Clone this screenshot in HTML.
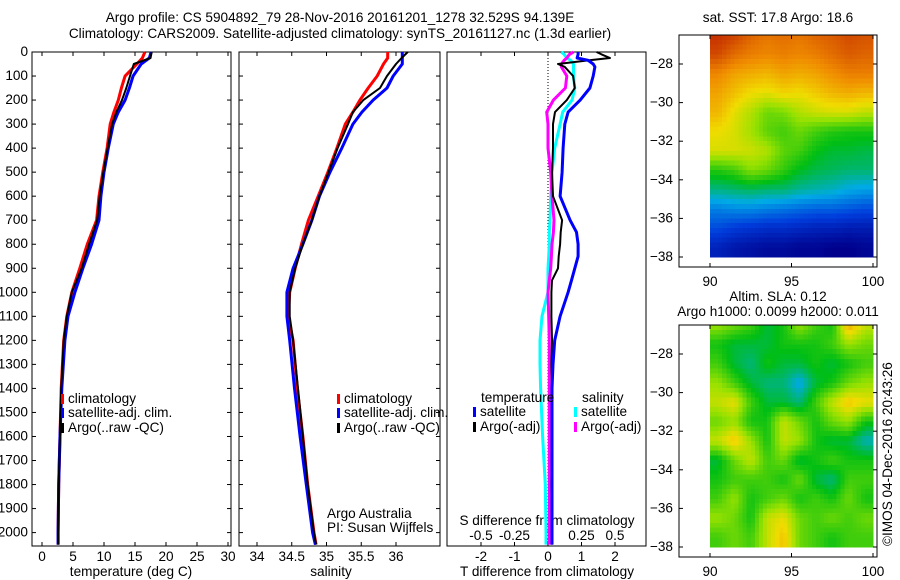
<!DOCTYPE html>
<html><head><meta charset="utf-8"><style>
body{margin:0;background:#fff;}
svg{display:block;font-family:"Liberation Sans",sans-serif;}
text{font-size:13.6px;fill:#000;}
</style></head><body>
<svg id="c" width="900" height="580" viewBox="0 0 900 580">
<text x="340" y="22" text-anchor="middle">Argo profile: CS 5904892_79 28-Nov-2016 20161201_1278 32.529S 94.139E</text>
<text x="340" y="38" text-anchor="middle">Climatology: CARS2009. Satellite-adjusted climatology: synTS_20161127.nc (1.3d earlier)</text>
<text x="778" y="22" text-anchor="middle">sat. SST: 17.8 Argo: 18.6</text>
<text x="778" y="301" text-anchor="middle">Altim. SLA: 0.12</text>
<text x="778" y="316" text-anchor="middle">Argo h1000: 0.0099 h2000: 0.011</text>
<text transform="translate(892,546) rotate(-90)">©IMOS 04-Dec-2016 20:43:26</text>
<g id="g"></g>
</svg>
<script>
// ---------- data ----------
const depthT = [0,25,50,100,150,200,250,300,400,500,600,700,800,900,1000,1100,1200,1400,1600,1800,2000,2050];
const tempClim = [16.6,16.2,15.3,13.4,12.8,12.3,11.6,11.0,10.5,9.8,9.2,8.8,7.3,6.1,4.8,4.0,3.5,3.1,2.9,2.7,2.6,2.6];
const tempSat  = [17.6,17.3,16.0,14.7,14.1,13.4,12.3,11.5,10.7,10.0,9.5,9.2,8.0,6.6,5.3,4.2,3.7,3.2,2.9,2.7,2.6,2.6];
const tempArgo = [17.7,17.5,14.8,14.2,13.6,12.9,12.0,11.3,10.6,9.9,9.3,8.9,7.6,6.4,4.8,4.0,3.5,3.1,2.9,2.7,2.6,2.6];
const salClim = [35.88,35.88,35.82,35.73,35.60,35.48,35.38,35.27,35.15,35.02,34.88,34.74,34.64,34.55,34.47,34.45,34.52,34.58,34.66,34.73,34.82,34.85];
const salSat  = [36.09,36.09,36.09,35.96,35.87,35.67,35.51,35.38,35.22,35.05,34.90,34.79,34.66,34.52,34.43,34.43,34.47,34.54,34.62,34.71,34.80,34.84];
const salArgo = [36.17,36.08,36.00,35.87,35.77,35.53,35.38,35.31,35.16,35.03,34.90,34.79,34.66,34.55,34.47,34.47,34.52,34.59,34.66,34.73,34.82,34.85];
const depthD = [0,10,25,35,50,62,100,150,200,250,300,400,500,600,700,750,800,850,900,950,1000,1100,1200,1300,1400,1600,1800,2000,2050];
const dTsat  = [0.9,0.9,0.87,1.2,1.35,1.4,1.35,1.25,0.96,0.6,0.5,0.45,0.42,0.36,0.66,0.85,0.9,0.9,0.8,0.7,0.6,0.36,0.2,0.15,0.12,0.12,0.12,0.12,0.12];
const dTargo = [1.45,1.6,1.85,1.2,0.3,0.5,0.75,0.8,0.56,0.21,0.15,0.15,0.12,0.15,0.42,0.38,0.36,0.32,0.3,0.12,0.1,0.1,0.12,0.1,0.12,0.12,0.1,0.12,0.12];
const dSsat  = [0.1,0.12,0.14,0.17,0.19,0.19,0.19,0.2,0.18,0.11,0.09,0.05,0.03,0.02,0.015,0.01,0.01,0.005,0.0,0.0,0.0,-0.045,-0.06,-0.06,-0.055,-0.04,-0.02,-0.015,-0.015];
const dSargo = [0.19,0.16,0.14,0.12,0.1,0.1,0.14,0.13,0.04,-0.01,0.0,0.0,0.02,0.03,0.045,0.04,0.03,0.025,0.02,0.01,0.0,0.005,0.01,0.01,0.01,0.01,0.01,0.01,0.01];
const depthTicks = [0,100,200,300,400,500,600,700,800,900,1000,1100,1200,1300,1400,1500,1600,1700,1800,1900,2000];
const tempTicks = [0,5,10,15,20,25,30];
const salTicks = [34,34.5,35,35.5,36];
const salTickLabels = ["34","34.5","35","35.5","36"];
const dTTicks = [-2,-1,0,1,2];
const dSTicks = [-0.5,-0.25,0,0.25,0.5];
const dSTickLabels = ["-0.5","-0.25","0","0.25","0.5"];
const lonTicks = [90,95,100];
const latTicks = [-28,-30,-32,-34,-36,-38];
const gridLons = [90,91,92,93,94,95,96,97,98,99];
const gridLats = [-26.5,-27.5,-28.5,-29.5,-30.5,-31.5,-32.5,-33.5,-34.5,-35.5,-36.5,-37.5];
const sst = [
[20.8,20.6,20.2,20.0,20.1,20.0,20.2,20.3,20.5,20.4],
[20.5,20.1,19.9,19.8,19.9,19.8,19.9,20.1,20.3,20.2],
[19.8,19.5,19.4,19.3,19.5,19.4,19.5,19.7,19.9,19.9],
[19.5,19.2,18.9,18.8,19.0,18.9,19.1,19.3,19.4,19.3],
[19.3,18.8,18.4,17.9,18.0,18.4,18.6,18.7,18.7,18.5],
[18.9,18.7,18.3,17.8,17.6,17.9,17.6,17.4,17.3,17.3],
[18.7,18.7,18.6,18.4,17.8,17.6,17.2,17.0,17.0,16.9],
[17.4,17.6,18.1,17.9,17.5,17.1,16.9,16.8,16.7,16.7],
[16.6,16.7,16.8,16.7,16.7,16.5,16.4,16.3,16.1,16.0],
[15.7,15.8,15.8,15.7,15.6,15.5,15.4,15.4,15.3,15.2],
[15.2,15.0,14.9,14.8,14.8,14.7,14.6,14.6,14.5,14.5],
[14.6,14.4,14.3,14.2,14.2,14.1,14.1,14.0,14.0,14.1]];
const sla = [
[0.15,0.1,0.05,-0.05,0.0,0.15,0.05,0.0,0.35,0.2],
[0.0,-0.05,-0.05,-0.05,0.0,0.0,0.0,0.05,0.15,0.1],
[0.05,-0.05,-0.1,0.0,-0.05,-0.05,0.0,-0.05,0.0,0.05],
[0.15,0.05,-0.05,-0.1,-0.1,-0.2,-0.05,0.0,0.1,0.15],
[0.2,0.25,0.05,-0.05,-0.05,-0.1,0.05,0.2,0.3,0.25],
[0.1,0.15,0.0,0.0,0.2,0.1,0.0,0.1,0.15,0.0],
[0.2,0.3,0.15,0.0,0.2,0.15,0.0,-0.05,-0.05,-0.15],
[-0.05,0.1,0.2,0.05,0.1,-0.05,0.0,0.05,0.0,0.0],
[0.0,0.05,0.05,0.05,0.0,0.1,-0.05,-0.1,0.05,0.05],
[0.05,0.15,0.0,0.05,0.1,0.0,0.05,0.0,0.1,0.0],
[0.15,0.1,0.0,0.2,0.25,0.1,0.05,0.1,0.05,0.1],
[0.05,0.1,0.05,0.2,0.3,0.1,0.05,0.0,0.05,0.05]];

// ---------- scales ----------
const NS="http://www.w3.org/2000/svg";
const G=document.getElementById('g');
function el(tag,attrs,parent){const e=document.createElementNS(NS,tag);for(const k in attrs)e.setAttribute(k,attrs[k]);(parent||G).appendChild(e);return e;}
const yD=d=>52+d*0.2403;
const xT=t=>42+t*6.2;
const xS=s=>257+(s-34)*69.5;
const xDT=v=>548+v*33.5;
const xDS=v=>548+v*134;
const lonX=l=>710+(l-90)*16.3;
const lat1=l=>64+(-28-l)*19.3;
const lat2=l=>354+(-28-l)*19.3;

const panels=[[32,231],[239,440],[447,646]];
panels.forEach((p,i)=>{
  const r=el('rect',{x:p[0],y:52,width:p[1]-p[0],height:494,fill:'none',stroke:'#000','stroke-width':1});
  
  
});
depthTicks.forEach(d=>{
  const y=yD(d);
  const t=el('text',{x:28,y:y+4,'text-anchor':'end'});t.textContent=d;
  
  
  [[32,1],[231,-1],[239,1],[440,-1]].forEach(a=>el('line',{x1:a[0],x2:a[0]+4*a[1],y1:y,y2:y,stroke:'#000'}));
});
function xticks(vals,labels,f,ly){
  vals.forEach((v,i)=>{const x=f(v);
    el('line',{x1:x,x2:x,y1:52,y2:56,stroke:'#000'});
    el('line',{x1:x,x2:x,y1:546,y2:542,stroke:'#000'});
    const t=el('text',{x:x,y:ly,'text-anchor':'middle'});t.textContent=labels[i];
    
    
  });
}
xticks(tempTicks,tempTicks.map(String),xT,561);
xticks(salTicks,salTickLabels,xS,561);
xticks(dTTicks,dTTicks.map(String),xDT,561);
dSTicks.forEach((v,i)=>{const t=el('text',{x:xDS(v),y:540,'text-anchor':'middle'});t.textContent=dSTickLabels[i];
  
  });
[["temperature (deg C)",131,'temp-axis-title'],["salinity",331,'salinity-axis-title'],["T difference from climatology",547,'t-diff-axis-title']].forEach(a=>{
  const t=el('text',{x:a[1],y:576,'text-anchor':'middle'});t.textContent=a[0];
  
  });
const st=el('text',{x:547,y:525,'text-anchor':'middle'});st.textContent="S difference from climatology";


el('line',{x1:548,x2:548,y1:52,y2:546,stroke:'#000','stroke-dasharray':'1,2'});

function line(depths,vals,fx,color,w,name){
  const pts=depths.map((d,i)=>fx(vals[i]).toFixed(1)+','+yD(d).toFixed(1)).join(' ');
  const p=el('polyline',{points:pts,fill:'none',stroke:color,'stroke-width':w,'stroke-linejoin':'round'});
  
  
}
line(depthT,tempClim,xT,'#f00',3,'temp-climatology-line');
line(depthT,tempSat,xT,'#00f',3,'temp-satellite-line');
line(depthT,tempArgo,xT,'#000',2,'temp-argo-line');
line(depthT,salClim,xS,'#f00',3,'sal-climatology-line');
line(depthT,salSat,xS,'#00f',3,'sal-satellite-line');
line(depthT,salArgo,xS,'#000',2,'sal-argo-line');
line(depthD,dSsat,xDS,'#0ff',3,'dsal-satellite-line');
line(depthD,dSargo,xDS,'#f0f',3,'dsal-argo-line');
line(depthD,dTargo,xDT,'#000',2,'dtemp-argo-line');
line(depthD,dTsat,xDT,'#00f',3,'dtemp-satellite-line');

function legend(x,y,color,label,name){
  el('rect',{x:x,y:y-9,width:3,height:10,fill:color});
  const t=el('text',{x:x+7,y:y});t.textContent=label;
  
  
}
legend(61,403,'#f00','climatology','legend-climatology');
legend(61,417,'#00f','satellite-adj. clim.','legend-satellite-adj');
legend(61,432,'#000','Argo(..raw -QC)','legend-argo');
legend(337,403,'#f00','climatology','legend2-climatology');
legend(337,417,'#00f','satellite-adj. clim.','legend2-satellite-adj');
legend(337,432,'#000','Argo(..raw -QC)','legend2-argo');
[["temperature",481,402],["salinity",582,402],["Argo Australia",327,518],["PI: Susan Wijffels",327,532]].forEach(a=>{
  const t=el('text',{x:a[1],y:a[2]});t.textContent=a[0];
  
  });
legend(473,416,'#00f','satellite','legend-t-satellite');
legend(473,431,'#000','Argo(-adj)','legend-t-argo');
legend(574,416,'#0ff','satellite','legend-s-satellite');
legend(574,431,'#f0f','Argo(-adj)','legend-s-argo');

// ---------- maps ----------
const stops=[[0,[0,0,140]],[0.15,[0,60,220]],[0.3,[0,170,230]],[0.45,[0,190,20]],[0.6,[150,225,0]],[0.7,[240,220,0]],[0.82,[240,140,0]],[1,[190,30,0]]];
function cmap(v){v=Math.max(0,Math.min(1,v));
  for(let k=1;k<stops.length;k++){if(v<=stops[k][0]){const a=stops[k-1],b=stops[k],t=(v-a[0])/(b[0]-a[0]);
    return 'rgb('+a[1].map((c,i)=>Math.round(c+(b[1][i]-c)*t)).join(',')+')';}}
  return 'rgb(190,30,0)';}
function sample(grid,fi,fj){
  fi=Math.max(0,Math.min(grid[0].length-1,fi));fj=Math.max(0,Math.min(grid.length-1,fj));
  const i0=Math.floor(fi),j0=Math.floor(fj),i1=Math.min(i0+1,grid[0].length-1),j1=Math.min(j0+1,grid.length-1),a=fi-i0,b=fj-j0;
  return (grid[j0][i0]*(1-a)+grid[j0][i1]*a)*(1-b)+(grid[j1][i0]*(1-a)+grid[j1][i1]*a)*b;}
function map(grid,latf,top,vmin,vmax,name){
  const gr=el('g',{'shape-rendering':'crispEdges'});
  
  
  const sub=4;
  for(let j=0;j<grid.length*sub;j++)for(let i=0;i<grid[0].length*sub;i++){
    const lon=gridLons[0]+i/sub, lat=gridLats[0]+0.5-j/sub;
    const v=sample(grid,(i+0.5)/sub-0.5,(j+0.5)/sub-0.5);
    const x0=lonX(lon),x1=Math.min(lonX(lon+1/sub),876);
    const y0=Math.max(latf(lat),top),y1=Math.min(latf(lat-1/sub),top+232);
    if(y1<=y0||x1<=x0)continue;
    const c=el('rect',{x:x0.toFixed(1),y:y0.toFixed(1),width:(x1-x0+0.6).toFixed(1),height:(y1-y0+0.6).toFixed(1),fill:cmap((v-vmin)/(vmax-vmin))},gr);
    
    
  }
  const f=el('rect',{x:679,y:top,width:198,height:232,fill:'none',stroke:'#000'});
  
  
  latTicks.forEach(l=>{const y=latf(l);
    el('line',{x1:679,x2:683,y1:y,y2:y,stroke:'#000'});el('line',{x1:877,x2:873,y1:y,y2:y,stroke:'#000'});
    const t=el('text',{x:673,y:y+4,'text-anchor':'end'});t.textContent=String(l).replace('-','\u2212');
    
    });
  lonTicks.forEach(l=>{const x=lonX(l);
    el('line',{x1:x,x2:x,y1:top,y2:top+4,stroke:'#000'});el('line',{x1:x,x2:x,y1:top+232,y2:top+228,stroke:'#000'});
    const t=el('text',{x:x,y:top+251,'text-anchor':'middle'});t.textContent=l;
    
    });
}
map(sst,lat1,35,14,21,'sst-map');
map(sla,lat2,325,-0.52,0.59,'sla-map');
</script>
</body></html>
